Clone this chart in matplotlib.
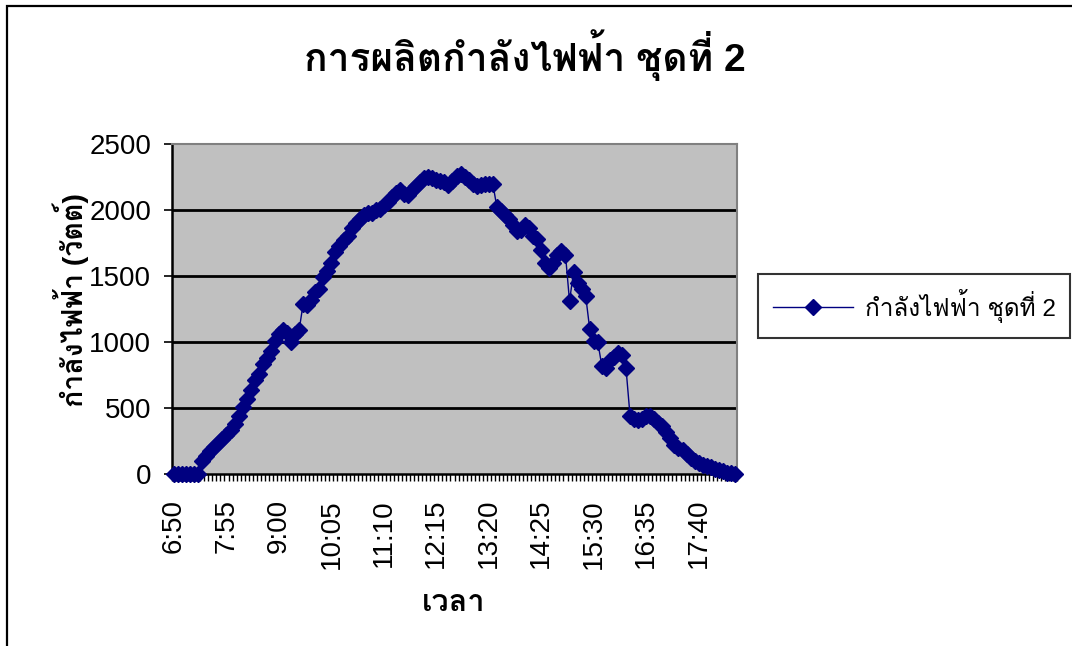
import matplotlib
matplotlib.use("Agg")
import matplotlib.pyplot as plt
from matplotlib.patches import Rectangle
import numpy as np

# ---- data ----
start_label = "6:50"
step_minutes = 5
power = [0, 0, 0, 0, 0, 0, 0, 100, 140, 175,
         205, 235, 265, 295, 330, 380, 440, 510, 570, 640,
         710, 760, 830, 880, 930, 1010, 1060, 1090, 1070, 1000,
         1060, 1090, 1290, 1280, 1320, 1380, 1400, 1490, 1540, 1600,
         1680, 1730, 1770, 1800, 1860, 1900, 1930, 1960, 1980, 1980,
         2000, 2010, 2040, 2060, 2100, 2130, 2150, 2120, 2110, 2150,
         2180, 2210, 2240, 2250, 2240, 2230, 2220, 2210, 2190, 2220,
         2260, 2270, 2250, 2230, 2200, 2180, 2190, 2200, 2200, 2200,
         2020, 1990, 1960, 1930, 1890, 1840, 1850, 1890, 1860, 1800,
         1780, 1700, 1600, 1560, 1600, 1660, 1690, 1660, 1310, 1530,
         1450, 1400, 1350, 1100, 1010, 1000, 820, 800, 860, 890,
         920, 900, 800, 440, 420, 410, 420, 440, 440, 420,
         390, 360, 320, 270, 220, 200, 180, 150, 120, 100,
         80, 70, 60, 50, 40, 30, 20, 10, 5, 0]
tick_labels = ["6:50", "7:55", "9:00", "10:05", "11:10", "12:15",
               "13:20", "14:25", "15:30", "16:35", "17:40"]
yticks = [0, 500, 1000, 1500, 2000, 2500]
title = "การผลิตกำลังไฟฟ้า ชุดที่ 2"
xlabel = "เวลา"
ylabel = "กำลังไฟฟ้า (วัตต์)"
series_name = "กำลังไฟฟ้า ชุดที่ 2"

# categories: 5-minute steps starting at 6:50
h0, m0 = map(int, start_label.split(":"))
categories = []
for k in range(len(power)):
    t = h0 * 60 + m0 + k * step_minutes
    categories.append(f"{t // 60}:{t % 60:02d}")

plt.rcParams["font.family"] = ["Liberation Sans", "Loma", "DejaVu Sans"]

W, H = 1072, 646
fig = plt.figure(figsize=(W / 100, H / 100), dpi=100)
fig.patch.set_facecolor("white")

# outer chart frame
fig.patches.append(Rectangle((7 / W, -0.05), 1.2, 1 - 6 / H + 0.05,
                             transform=fig.transFigure, fill=False,
                             edgecolor="black", linewidth=1.6))

left, right, top, bottom = 172, 737, 144, 474
ax = fig.add_axes([left / W, 1 - bottom / H, (right - left) / W, (bottom - top) / H])
ax.set_facecolor("#C0C0C0")

x = np.arange(len(power))
ax.plot(x, power, color="#000080", linewidth=1.0, marker="D",
        markersize=8.5, markeredgecolor="#000080", markerfacecolor="#000080",
        label=series_name, zorder=3, clip_on=False)

ax.set_xlim(-0.5, len(power) - 0.5)
ax.set_ylim(0, 2500)
ax.set_yticks(yticks)
ax.set_yticklabels([str(v) for v in yticks])
for v in yticks[1:-1]:
    ax.axhline(v, color="black", linewidth=2.0, zorder=1)

label_pos = [categories.index(l) for l in tick_labels]
ax.set_xticks(label_pos)
ax.set_xticklabels(tick_labels, rotation=90)
ax.set_xticks(np.arange(-0.5, len(power), 1.0), minor=True)
ax.tick_params(axis="x", which="major", length=0, pad=18, labelsize=20)
ax.tick_params(axis="x", which="minor", length=5, width=1, direction="out", color="black")
ax.tick_params(axis="y", which="major", length=6, width=1.2, direction="out", pad=9, labelsize=20)

for s in ["top", "right"]:
    ax.spines[s].set_color("#808080")
    ax.spines[s].set_linewidth(1.5)
for s in ["left", "bottom"]:
    ax.spines[s].set_color("black")
    ax.spines[s].set_linewidth(1.8)

fig.text(525 / W, 1 - 55 / H, title, ha="center", va="center",
         fontsize=28, fontweight="bold")
fig.text(71 / W, 1 - 300 / H, ylabel, ha="center", va="center",
         rotation=90, fontsize=20.5, fontweight="bold")
fig.text(454 / W, 1 - 603 / H, xlabel, ha="center", va="center",
         fontsize=22, fontweight="bold")

leg = fig.legend(loc="center left", bbox_to_anchor=(758 / W, 1 - 306 / H),
                 borderaxespad=0, frameon=True, fancybox=False,
                 edgecolor="black", fontsize=17.5, handlelength=3.3,
                 borderpad=0.6, handletextpad=0.5)
leg.get_frame().set_linewidth(1.5)

fig.savefig("out.png", dpi=100)
